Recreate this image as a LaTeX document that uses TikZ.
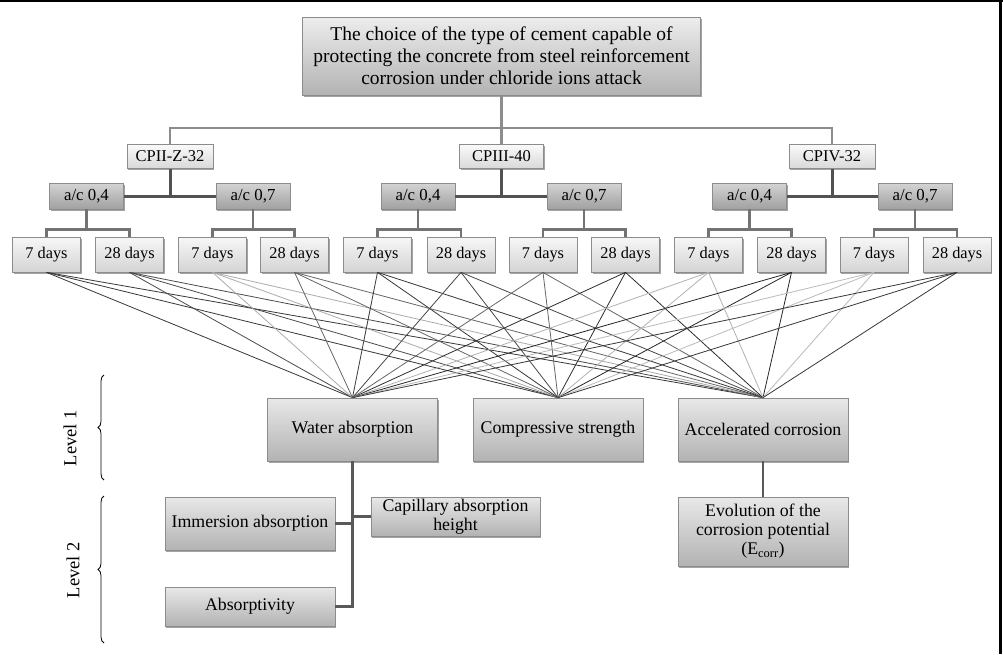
\documentclass[tikz,border=0pt]{standalone}
\usepackage{fontspec}
\setmainfont{Liberation Serif}
\usetikzlibrary{shadows,decorations.pathreplacing}
\begin{document}
\begin{tikzpicture}[x=1pt,y=-1pt,
  basebox/.style={draw=black!45, line width=0.7pt, inner sep=0pt, align=center,
    drop shadow={shadow xshift=1.3pt, shadow yshift=-1.7pt, fill=black!65, opacity=0.55}},
  titlebox/.style={basebox, top color=black!7, bottom color=black!30,
    font=\fontsize{19.5}{22}\selectfont, minimum width=398pt, minimum height=78pt},
  cpbox/.style={basebox, top color=black!2, bottom color=black!15,
    font=\fontsize{16.5}{18}\selectfont, minimum width=86pt, minimum height=24pt},
  acbox/.style={basebox, top color=black!17, bottom color=black!37,
    font=\fontsize{16.8}{18}\selectfont, minimum width=74pt, minimum height=26pt},
  daybox/.style={basebox, top color=black!3, bottom color=black!17,
    font=\fontsize{16.3}{18}\selectfont, minimum width=68pt, minimum height=35pt},
  lvbox/.style={basebox, top color=black!9, bottom color=black!30,
    font=\fontsize{17.8}{19}\selectfont, minimum width=170pt},
  lvtext/.style={font=\fontsize{18.5}{20}\selectfont, rotate=90},
  busline/.style={draw=black!45, line width=2.4pt},
  acline/.style={draw=black!68, line width=3pt},
  dayline/.style={draw=black!55, line width=2.6pt},
  subline/.style={draw=black!65, line width=2.6pt},
  crossline/.style={line width=0.8pt},
  bracestyle/.style={draw=black, line width=0.8pt, decorate, decoration={brace, amplitude=6pt}}
]
\useasboundingbox[fill=white] (0,0) rectangle (1003,654);
\draw[line width=2pt] (0,1) -- (1003,1);
\draw[line width=2.5pt] (1000.5,0) -- (1000.5,654);

% title
\node[titlebox] (title) at (501.5,56) {The choice of the type of cement capable of\\protecting the concrete from steel reinforcement\\corrosion under chloride ions attack};

% cement types
\node[cpbox] (cp1) at (170,156.5) {CPII-Z-32};
\node[cpbox, minimum width=84pt] (cp2) at (501.5,156.5) {CPIII-40};
\node[cpbox] (cp3) at (832,156.5) {CPIV-32};

% a/c
\node[acbox] (ac1) at (86.5,196) {a/c 0,4};
\node[acbox] (ac2) at (253,196) {a/c 0,7};
\node[acbox] (ac3) at (418,196) {a/c 0,4};
\node[acbox] (ac4) at (584,196) {a/c 0,7};
\node[acbox] (ac5) at (749.5,196) {a/c 0,4};
\node[acbox] (ac6) at (915,196) {a/c 0,7};

% days
\foreach \i/\x/\t in {1/46.5/7 days, 2/129.5/28 days, 3/212.5/7 days, 4/294.5/28 days,
  5/377.5/7 days, 6/461/28 days, 7/543/7 days, 8/625.5/28 days,
  9/708.5/7 days, 10/791.5/28 days, 11/874/7 days, 12/957/28 days}
  \node[daybox] (d\i) at (\x,254.5) {\t};

% level 1
\node[lvbox, minimum height=63pt] (l1) at (352.5,429.5) {Water absorption};
\node[lvbox, minimum height=63pt] (l2) at (558,429.5) {Compressive strength};
\node[lvbox, minimum height=63pt] (l3) at (763,429.5) {Accelerated corrosion};

% level 2
\node[lvbox, minimum height=53pt] (imm) at (250,523.5) {Immersion absorption};
\node[lvbox, minimum height=39pt, minimum width=169pt] (cap) at (455.5,516.5) {Capillary absorption\\height};
\node[lvbox, minimum height=39pt] (abs) at (250,606.5) {Absorptivity};
\node[lvbox, minimum height=69pt] (evo) at (763,531.5) {Evolution of the\\corrosion potential\\(E\textsubscript{corr})};

% level labels and braces
\node[lvtext] (lab1) at (70,438) {Level 1};
\node[lvtext] (lab2) at (73,570) {Level 2};
\draw[bracestyle] (104,480) -- (104,375);
\draw[bracestyle] (104,643) -- (104,496);

% tree connectors
\draw[busline] (title.south) -- (title.south |- 0,128);
\draw[busline] (cp1.north) |- (cp3.north |- 0,128) -- (cp3.north);
\draw[busline] (cp2.north) -- (cp2.north |- 0,128);

\draw[acline] (cp1.south) -- (cp1.south |- ac1.east);
\draw[acline] (ac1.east) -- (ac2.west);
\draw[acline] (cp2.south) -- (cp2.south |- ac3.east);
\draw[acline] (ac3.east) -- (ac4.west);
\draw[acline] (cp3.south) -- (cp3.south |- ac5.east);
\draw[acline] (ac5.east) -- (ac6.west);

\foreach \a/\p/\q in {1/1/2, 2/3/4, 3/5/6, 4/7/8, 5/9/10, 6/11/12} {
  \draw[dayline] (ac\a.south) -- (ac\a.south |- 0,229.5);
  \draw[dayline] (d\p.north) |- (d\q.north |- 0,229.5) -- (d\q.north);
}

% cross connections
\foreach \i/\c in {1/black!78, 2/black!70, 3/black!33, 4/black!60, 5/black!78, 6/black!72,
  7/black!60, 8/black!82, 9/black!30, 10/black!85, 11/black!27, 12/black!78} {
  \foreach \j in {1,2,3}
    \draw[crossline, draw=\c] (d\i.south) -- (l\j.north);
}

% level 2 connectors
\draw[subline] (l1.south) |- (abs.east);
\draw[subline] (imm.east) -- (imm.east -| l1.south);
\draw[subline] (cap.west) -- (cap.west -| l1.south);
\draw[subline] (l3.south) -- (evo.north);
\end{tikzpicture}
\end{document}
